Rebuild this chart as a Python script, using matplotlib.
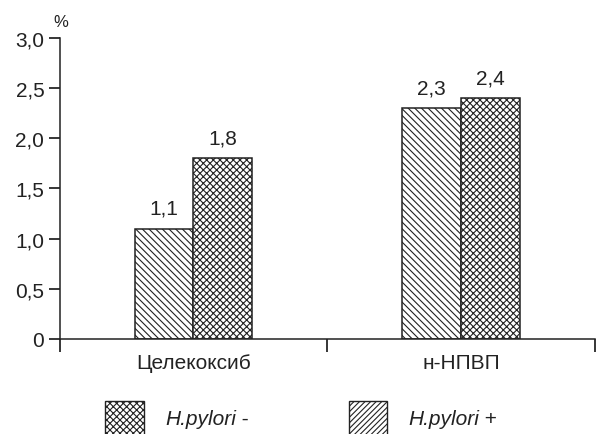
import matplotlib
matplotlib.use("Agg")
import matplotlib.pyplot as plt
from matplotlib.patches import Rectangle
from matplotlib.ticker import FuncFormatter
import numpy as np

plt.rcParams['font.family'] = ['Liberation Sans', 'DejaVu Sans']
plt.rcParams['hatch.linewidth'] = 0.8

categories = ['Целекоксиб', 'н-НПВП']
hp_pos = [1.1, 2.3]   # diagonal hatch (left bar)
hp_neg = [1.8, 2.4]   # cross hatch (right bar)
legend_labels = ['H.pylori', 'H.pylori']
yticks = [0, 0.5, 1.0, 1.5, 2.0, 2.5, 3.0]

FS = 15
INK = '#222222'

fig = plt.figure(figsize=(5.96, 4.35), dpi=100)
ax = fig.add_axes([0.100, 0.219, 0.898, 0.691])

x = np.arange(len(categories))
w = 0.22
b1 = ax.bar(x - w / 2, hp_pos, w, color='white', edgecolor=INK,
            hatch='\\\\\\\\\\', linewidth=1.1)
b2 = ax.bar(x + w / 2, hp_neg, w, color='white', edgecolor=INK,
            hatch='xxxxx', linewidth=1.1)

def fmt(v):
    s = f"{v:.1f}".replace('.', ',')
    return '0' if v == 0 else s

for bars, vals in [(b1, hp_pos), (b2, hp_neg)]:
    for r, v in zip(bars, vals):
        ax.annotate(fmt(v), (r.get_x() + r.get_width() / 2, v),
                    xytext=(0, 8), textcoords='offset points',
                    ha='center', va='bottom', fontsize=FS, color=INK)

ax.set_xlim(-0.5, 1.5)
ax.set_ylim(0, 3.0)
ax.set_yticks(yticks)
ax.yaxis.set_major_formatter(FuncFormatter(lambda v, p: fmt(v)))
ax.set_xticks([-0.5, 0.5, 1.5])
ax.set_xticklabels([])
ax.set_xticks(x, minor=True)
ax.set_xticklabels(categories, minor=True, fontsize=FS, color=INK)
ax.tick_params(axis='x', which='major', direction='out', length=9.5, width=1.1)
ax.tick_params(axis='x', which='minor', length=0, pad=10)
ax.tick_params(axis='y', direction='out', length=8, width=1.1,
               labelsize=FS, labelcolor=INK, pad=3)

for s in ['top', 'right']:
    ax.spines[s].set_visible(False)
for s in ['left', 'bottom']:
    ax.spines[s].set_linewidth(1.1)
    ax.spines[s].set_color(INK)

fig.text(0.089, 0.948, '%', fontsize=12, ha='left', va='center', color=INK)

# legend drawn by hand
for x0, hatch, text, sign in [(0.177, 'xxxxx', legend_labels[0], ' -'),
                              (0.585, '//////', legend_labels[1], ' +')]:
    fig.add_artist(Rectangle((x0, -0.005), 0.065, 0.08, transform=fig.transFigure,
                             facecolor='white', edgecolor=INK,
                             hatch=hatch, linewidth=1.0))
    t = fig.text(x0 + 0.100, 0.036, text, fontsize=FS, style='italic',
                 ha='left', va='center', color=INK)
    fig.canvas.draw()
    bb = t.get_window_extent().transformed(fig.transFigure.inverted())
    fig.text(bb.x1, 0.036, sign, fontsize=FS, ha='left', va='center', color=INK)

fig.savefig('out.png', dpi=100)
